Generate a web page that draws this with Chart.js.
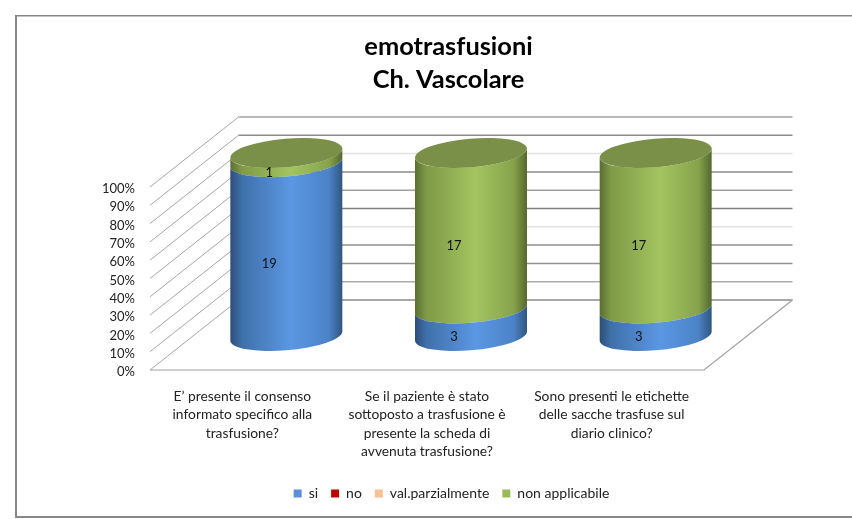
<!DOCTYPE html>
<html>
<head>
<meta charset="utf-8">
<script src="https://cdn.jsdelivr.net/npm/chart.js@4"></script>
<style>
html,body{margin:0;padding:0;background:#fff;overflow:hidden}
#wrap{position:relative;width:852px;height:519px}
canvas{display:block}
</style>
</head>
<body>
<div id="wrap"><canvas id="c" width="852" height="519"></canvas></div>
<script>
const categories = [
  ["E’ presente il consenso", "informato specifico alla", "trasfusione?"],
  ["Se il paziente è stato", "sottoposto a trasfusione è", "presente la scheda di", "avvenuta trasfusione?"],
  ["Sono presenti le etichette", "delle sacche trasfuse sul", "diario clinico?"]
];
const si = [19, 3, 3];
const no = [0, 0, 0];
const valParzialmente = [0, 0, 0];
const nonApplicabile = [1, 17, 17];
const totalAnswers = 20;
const percentTicks = ["0%","10%","20%","30%","40%","50%","60%","70%","80%","90%","100%"];
const wallLineColors = ["#8a8a8a","#ababab","#929292","#8c8c8c","#e2e2e2","#808080","#a2a2a2","#8c8c8c","#e2e2e2","#8c8c8c","#a0a0a0"];

const FONT = "Lato, Carlito, Calibri, sans-serif";
const DEPTH = {x: 88.5, y: -70};      // front plane to back wall
const BAR_DEPTH = {x: 44, y: -34};  // front plane to the cylinder axis
const LABEL_DEPTH = {x: 27, y: -20};
const SHADES = {
  si: ["#2c4e78","#3f70aa","#5b97e3","#4c83c6","#305681"],
  nap: ["#5a6e31","#7f9a47","#a3c460","#87a34c","#55682e"]
};
const CAP_COLOR = "#7a8f48";
const TILT = -4.9 * Math.PI / 180;
const A_RATIO = 1.004, B_RATIO = 0.255;

function ellipseGeom(w){
  const a = w / 2 * A_RATIO, b = w / 2 * B_RATIO;
  const t0 = Math.atan(-(b / a) * Math.tan(TILT));
  return {a, b, t0};
}

const cylinderPlugin = {
  id: "cylinder3d",
  afterLayout(chart){
    const shiftTitle = 96.5, shiftLegend = 99.5;
    chart.titleBlock.left += shiftTitle; chart.titleBlock.right += shiftTitle;
    chart.legend.left += shiftLegend; chart.legend.right += shiftLegend;
    chart.legend.top = 473.5;
  },
  beforeDraw(chart){
    const c = chart.ctx;
    c.save();
    c.fillStyle = "#fff";
    c.fillRect(0,0,chart.width,chart.height);
    c.fillStyle = "#878787";
    c.fillRect(15,15,chart.width-15,1.5);
    c.fillRect(15,15,2,502);
    c.fillRect(15,516,chart.width-15,2);
    c.restore();
  },
  beforeDatasetsDraw(chart){
    const c = chart.ctx, y = chart.scales.y, a = chart.chartArea;
    c.save();
    y.ticks.forEach((t,i)=>{
      const py = y.getPixelForValue(t.value);
      c.beginPath();
      c.strokeStyle = "#a6a6a6"; c.lineWidth = 1;
      c.moveTo(a.left, py); c.lineTo(a.left + DEPTH.x, py + DEPTH.y);
      c.stroke();
      c.beginPath();
      c.strokeStyle = wallLineColors[i]; c.lineWidth = 1.5;
      c.moveTo(a.left + DEPTH.x, py + DEPTH.y); c.lineTo(a.right + DEPTH.x, py + DEPTH.y);
      c.stroke();
    });
    const y0 = y.getPixelForValue(0);
    c.beginPath();
    c.strokeStyle = "#a0a0a0"; c.lineWidth = 1.2;
    c.moveTo(a.left, y0); c.lineTo(a.right, y0); c.lineTo(a.right + DEPTH.x, y0 + DEPTH.y);
    c.stroke();
    c.restore();
  },
  beforeDatasetDraw(chart, args){
    const c = chart.ctx;
    const meta = args.meta;
    const ds = chart.data.datasets[args.index];
    meta.data.forEach((bar,i)=>{
      if(!ds.data[i]) return;
      const {x, y, base, width} = bar.getProps(["x","y","base","width"], true);
      const cx = x + BAR_DEPTH.x, top = y + BAR_DEPTH.y, bot = base + BAR_DEPTH.y;
      const {a, b, t0} = ellipseGeom(width);
      const shades = args.index === 0 ? SHADES.si : SHADES.nap;
      const g = c.createLinearGradient(cx - width/2, 0, cx + width/2, 0);
      [0, .1, .54, .88, 1].forEach((s,k)=>g.addColorStop(s, shades[k]));
      c.save();
      c.fillStyle = g;
      c.beginPath();
      c.ellipse(cx, bot, a, b, TILT, t0, t0 + Math.PI, false);
      c.ellipse(cx, top, a, b, TILT, t0 + Math.PI, t0, true);
      c.closePath();
      c.fill();
      c.restore();
    });
    return false;
  },
  afterDatasetsDraw(chart){
    const c = chart.ctx;
    const lastMeta = chart.getDatasetMeta(chart.data.datasets.length - 1);
    lastMeta.data.forEach(bar=>{
      const {x, y, width} = bar.getProps(["x","y","width"], true);
      const {a, b} = ellipseGeom(width);
      c.save();
      c.fillStyle = CAP_COLOR;
      c.beginPath();
      c.ellipse(x + BAR_DEPTH.x, y + BAR_DEPTH.y, a, b, TILT, 0, Math.PI*2);
      c.fill();
      c.restore();
    });
    chart.data.datasets.forEach((ds,di)=>{
      chart.getDatasetMeta(di).data.forEach((bar,i)=>{
        if(!ds.data[i]) return;
        const {x, y, base} = bar.getProps(["x","y","base"], true);
        c.save();
        c.fillStyle = "#111";
        c.font = "13px " + FONT;
        c.textAlign = "center"; c.textBaseline = "middle";
        c.fillText(String(ds.data[i]), x + LABEL_DEPTH.x, (y + base)/2 + LABEL_DEPTH.y + 1);
        c.restore();
      });
    });
  }
};

new Chart(document.getElementById("c"), {
  type: "bar",
  data: {
    labels: categories,
    datasets: [
      {label: "si", data: si, backgroundColor: "#5b8fd8", borderWidth: 0},
      {label: "no", data: no, backgroundColor: "#c00000", borderWidth: 0},
      {label: "val.parzialmente", data: valParzialmente, backgroundColor: "#fac090", borderWidth: 0},
      {label: "non applicabile", data: nonApplicabile, backgroundColor: "#9bbb59", borderWidth: 0}
    ]
  },
  plugins: [cylinderPlugin],
  options: {
    responsive: false,
    animation: false,
    layout: {padding: {left: 0, right: 148, top: 0, bottom: 0}},
    datasets: {bar: {categoryPercentage: 1, barPercentage: 0.606}},
    plugins: {
      title: {
        display: true,
        text: ["emotrasfusioni", "Ch. Vascolare"],
        color: "#000",
        font: {family: FONT, size: 25.4, weight: "bold", lineHeight: "33px"},
        padding: {top: 30, bottom: 91}
      },
      legend: {
        display: true,
        position: "bottom",
        labels: {
          boxWidth: 8, boxHeight: 8, padding: 13,
          color: "#222",
          font: {family: FONT, size: 14}
        }
      },
      tooltip: {enabled: false}
    },
    scales: {
      x: {
        stacked: true,
        grid: {display: false, drawTicks: false},
        border: {display: false},
        ticks: {
          autoSkip: false, maxRotation: 0, minRotation: 0,
          padding: 17, color: "#222",
          font: {family: FONT, size: 13.8, lineHeight: "18.5px"}
        },
        afterFit(s){ s.height = 149 - s.chart.legend.height; }
      },
      y: {
        stacked: true,
        min: 0, max: totalAnswers,
        grid: {display: false, drawTicks: false},
        border: {display: false},
        ticks: {
          autoSkip: false,
          stepSize: totalAnswers / 10,
          padding: 15, color: "#222",
          labelOffset: 2,
          font: {family: FONT, size: 13},
          callback(v){ return percentTicks[Math.round(v / totalAnswers * 10)]; }
        },
        afterFit(s){ s.width = 150; }
      }
    }
  }
});
</script>
</body>
</html>
